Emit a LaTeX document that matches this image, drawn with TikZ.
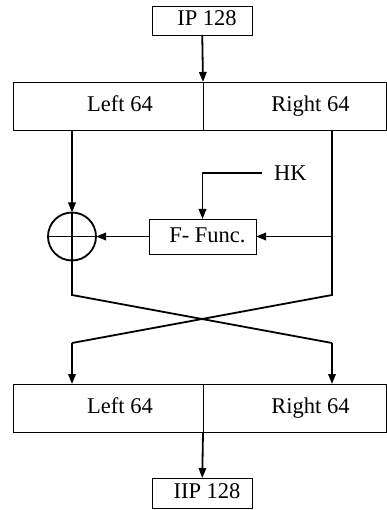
\documentclass[tikz,border=0pt]{standalone}
\usepackage{fontspec}
\setmainfont{Liberation Serif}
\usetikzlibrary{positioning,arrows.meta}
\tikzstyle{arrow} = [-{Triangle[length=10pt,width=7.5pt]}, line width=1.8pt]
\tikzstyle{line} = [line width=1.8pt]
\tikzstyle{wbox} = [draw, rectangle, line width=0.9pt, inner sep=0, outer sep=0, text height=15pt, text depth=4pt,
  font=\fontsize{22.5}{27}\selectfont, execute at begin node={\hspace{10pt}}]
\tikzstyle{xorc} = [draw, circle, line width=1.8pt, minimum size=48, inner sep=0, outer sep=0,
  path picture={\draw[line width=1.8pt] (path picture bounding box.north) -- (path picture bounding box.south)
  (path picture bounding box.west) -- (path picture bounding box.east);}]

\begin{document}
\begin{tikzpicture}[x=1pt, y=-1pt]
    \useasboundingbox (0,0) rectangle (386,510);

    \node [wbox, minimum width=100, minimum height=29] (ip) at (202,20.5) {IP 128};
    \node [wbox, minimum width=190, minimum height=48, execute at begin node={\hspace{14pt}}] (tl) at (108,106) {Left 64};
    \node [wbox, minimum width=183, minimum height=48, execute at begin node={\hspace{22pt}}] (tr) at (294.5,106) {Right 64};

    \node [xorc] (xor) at (72,236.5) {};
    \node [wbox, minimum width=107, minimum height=35] (ff) at (202.5,236.5) {F- Func.};
    \node [anchor=west, inner xsep=12pt, outer sep=0, font=\fontsize{22.5}{27}\selectfont] (hk) at (262,173) {HK};
    \coordinate (rsplit) at (332,236.5);

    \coordinate (lx) at (72,295);
    \coordinate (rx) at (332,295);
    \coordinate (lb) at (72,343);
    \coordinate (rb) at (332,343);

    \node [wbox, minimum width=190, minimum height=48, execute at begin node={\hspace{14pt}}] (bl) at (108,408) {Left 64};
    \node [wbox, minimum width=183, minimum height=48, execute at begin node={\hspace{22pt}}] (br) at (294.5,408) {Right 64};
    \node [wbox, minimum width=100, minimum height=30] (iip) at (202,493) {IIP 128};

    \draw [arrow] (ip) -- (tl.north east);
    \draw [arrow] (xor.north |- tl.south) -- (xor);
    \draw [line] (rsplit |- tr.south) -- (rsplit);
    \draw [arrow] (rsplit) -- (ff);
    \draw [arrow] (ff) -- (xor);
    \draw [arrow] (hk.west) -| (ff);

    \draw [line] (xor.south) -- (lx) -- (rb);
    \draw [line] (rsplit) -- (rx) -- (lb);
    \draw [arrow] (rb) -- (rb |- br.north);
    \draw [arrow] (lb) -- (lb |- bl.north);
    \draw [arrow] (bl.south east) -- (iip);
\end{tikzpicture}
\end{document}
